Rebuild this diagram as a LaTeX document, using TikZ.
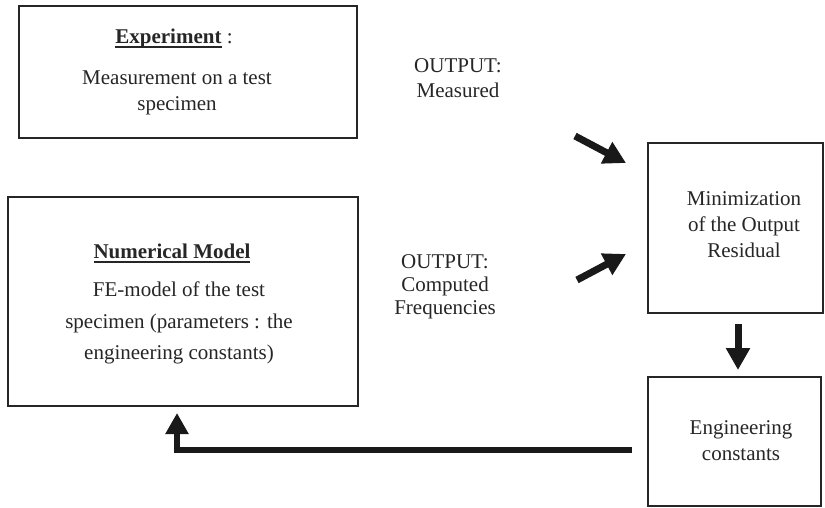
\documentclass[tikz,border=0pt]{standalone}
\usepackage{fontspec}
\setmainfont{Liberation Serif}
\usetikzlibrary{arrows.meta}
\newcommand\myul[1]{\setbox0\hbox{#1}\rlap{\raisebox{-4.5pt}{\rule{\wd0}{2pt}}}\box0\relax}
\begin{document}
\begin{tikzpicture}[x=1pt,y=-1pt,
  box/.style={draw=black!85,line width=2pt,inner sep=0pt},
  txt/.style={font=\fontsize{21}{26}\selectfont,align=center,inner sep=0pt,text=black!85},
  fat/.style={line width=7pt,draw=black!90,-{Triangle[length=22pt,width=23pt]}},
]
\useasboundingbox (0,0) rectangle (825,508);
% boxes
\node[box,minimum width=338pt,minimum height=132pt] (exp) at (188,72) {};
\node[box,minimum width=350pt,minimum height=209pt] (num) at (183,301.5) {};
\node[box,minimum width=175pt,minimum height=170pt] (min) at (735.5,228) {};
\node[box,minimum width=173pt,minimum height=129pt] (eng) at (734.5,441.5) {};
% texts
\node[txt] (expT) at (174,38) {\myul{\textbf{Experiment}} :};
\node[txt] (expB) at (177,93) {Measurement on a test\\specimen};
\node[txt] (numT) at (172,253) {\myul{\textbf{Numerical Model}}};
\node[txt,font=\fontsize{21}{31.5}\selectfont] (numB) at (179,323) {FE-model of the test\\specimen (parameters : the\\engineering constants)};
\node[txt,font=\fontsize{21}{25}\selectfont] (outM) at (458,78) {OUTPUT:\\Measured};
\node[txt,font=\fontsize{21}{23}\selectfont] (outC) at (445,287) {OUTPUT:\\Computed\\Frequencies};
\node[txt] (minT) at (744,224.5) {Minimization\\of the Output\\Residual};
\node[txt] (engT) at (741,441) {Engineering\\constants};
% arrows
\coordinate (a1s) at (575,136);
\coordinate (a1e) at (626,163);
\coordinate (a2s) at (577,280);
\coordinate (a2e) at (626,254);
\draw[fat] (a1s) -- (a1e);
\draw[fat] (a2s) -- (a2e);
\draw[fat] ([xshift=2.5pt,yshift=-10pt]min.south) -- ([xshift=3.5pt,yshift=6pt]eng.north);
\coordinate (fbk) at (177,449.5);
\draw[line width=6pt,draw=black!90,-{Triangle[length=21pt,width=22pt]}] ([xshift=-15pt]eng.west |- fbk) -- (fbk) -- ([yshift=-6pt]num.south -| fbk);
\end{tikzpicture}
\end{document}
